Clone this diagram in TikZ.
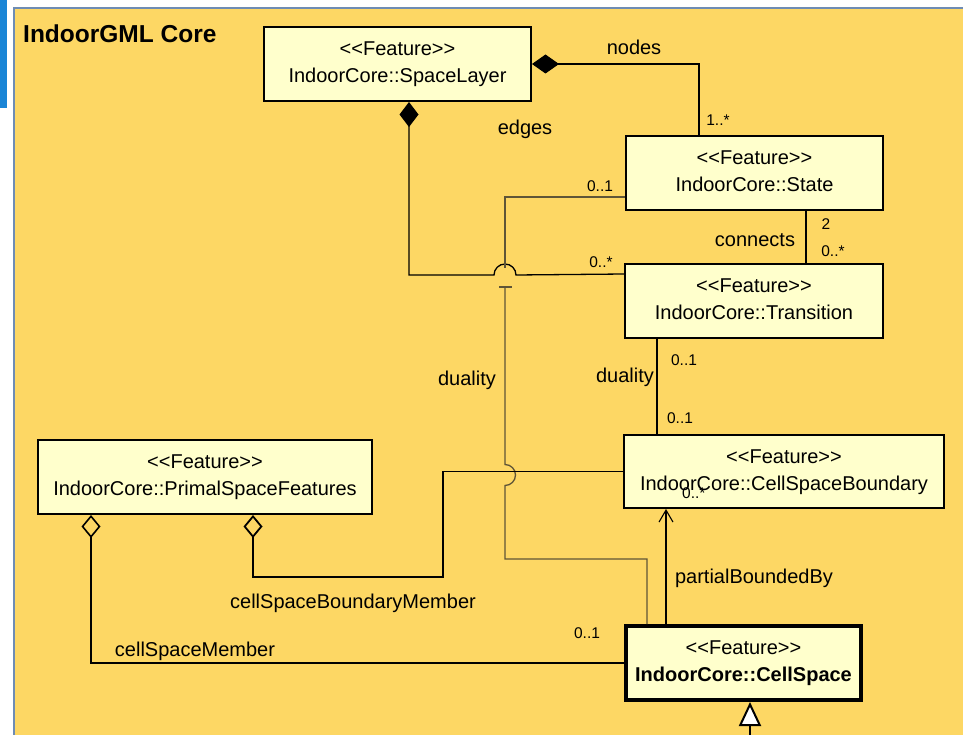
\documentclass[tikz,border=0pt]{standalone}
\usepackage{fontspec}
\setmainfont{Liberation Sans}
\usetikzlibrary{arrows.meta,calc}

\definecolor{pkgfill}{RGB}{253,215,100}
\definecolor{boxfill}{RGB}{255,255,204}
\definecolor{pkgedge}{RGB}{110,140,180}
\definecolor{barblue}{RGB}{26,133,214}
\definecolor{dualline}{RGB}{95,85,55}

% stereotype line of every class box
\newcommand\featuretag{<\kern0pt<Feature>\kern0pt>}

\begin{document}
\begin{tikzpicture}[x=1pt,y=-1pt,
  cls/.style={draw=black, line width=2pt, fill=boxfill, align=center,
              inner sep=0pt, font=\fontsize{20}{27}\selectfont},
  lbl/.style={anchor=base, inner sep=0pt, font=\fontsize{20}{24}\selectfont},
  mult/.style={anchor=base, inner sep=0pt, font=\fontsize{15.5}{18}\selectfont},
  conn/.style={line width=1.3pt},
  dual/.style={line width=1.3pt, draw=dualline},
  fdiamond/.style={{Diamond[length=#1,width=19pt,fill=black]}-},
  odiamond/.style={{Diamond[open,length=23pt,width=19pt,fill=pkgfill]}-},
]
\useasboundingbox (0,0) rectangle (963,735);
\fill[white] (0,0) rectangle (963,735);
\fill[barblue] (0,0) rectangle (7,108);
\draw[pkgedge, line width=1.5pt, fill=pkgfill] (14,8) rectangle (980,760);

\node[anchor=base west, inner sep=0pt,
      font=\fontsize{24.5}{28}\selectfont\bfseries] (title) at (23,43) {IndoorGML Core};

% class boxes
\node[cls, minimum width=267, minimum height=74] (sl)  at (397.5,64)
  {\strut\featuretag\\IndoorCore::SpaceLayer\strut};
\node[cls, minimum width=257, minimum height=74] (st)  at (754.5,173)
  {\strut\featuretag\\IndoorCore::State\strut};
\node[cls, minimum width=258, minimum height=74] (tr)  at (754,301)
  {\strut\featuretag\\IndoorCore::Transition\strut};
\node[cls, minimum width=320, minimum height=73] (csb) at (784,471.5)
  {\strut\featuretag\\IndoorCore::CellSpaceBoundary\strut};
\node[cls, minimum width=334, minimum height=74] (psf) at (205,477)
  {\strut\featuretag\\IndoorCore::PrimalSpaceFeatures\strut};
\node[cls, line width=4pt, minimum width=235, minimum height=74] (cs) at (743.5,663)
  {\strut\featuretag\\\textbf{IndoorCore::CellSpace}\strut};

% helper points on the connector routes
\coordinate (nodesX) at ($(st.north west)+(74,0)$);
\coordinate (hop1)   at (494,275);
\coordinate (eT)     at ($(tr.north west)+(0,11)$);
\coordinate (colD)   at (505,0);
\coordinate (dS)     at ($(st.south west)+(0,-14)$);
\coordinate (dE)     at ($(cs.north west)+(23,0)$);
\coordinate (dLow)   at (505,559);
\coordinate (cA)     at ($(st.south west)+(181,0)$);
\coordinate (dA)     at ($(tr.south west)+(33,0)$);
\coordinate (pB)     at ($(cs.north west)+(42,0)$);
\coordinate (cmS)    at ($(psf.south west)+(54,0)$);
\coordinate (bmS)    at ($(psf.south west)+(216,0)$);
\coordinate (bmK)    at (443,577);
\coordinate (gA)     at ($(cs.south)+(6.5,0)$);
\coordinate (gB)     at ($(gA)+(0,60)$);

% nodes
\draw[conn, line width=1.1pt, fdiamond=27pt] (sl.east) -| (nodesX);
% edges (hops over the duality line)
\draw[conn, fdiamond=25pt] ($(sl.south)+(11.5,0)$) |- (hop1)
  arc[start angle=180, end angle=0, radius=11pt] -- (eT);
% duality State -- CellSpace (hops over the boundary member line)
\draw[dual] (dS) -| ($(colD|-hop1)+(0,-7)$);
\draw[dual] ($(colD|-hop1)+(-6,12)$) -- ++(13,0);
\draw[dual] ($(colD|-hop1)+(0,13)$) -- ($(colD|-csb.west)+(0,-7)$)
  arc[start angle=90, end angle=-90, radius=10.5pt] -- (dLow) -| (dE);
% connects
\draw[conn, line width=1.1pt] (cA) -- (cA |- tr.north);
% duality Transition -- CellSpaceBoundary
\draw[conn, line width=1.6pt] (dA) -- (dA |- csb.north);
% partialBoundedBy
\draw[conn, line width=1.1pt, -{Straight Barb[length=12pt,width=14pt]}] (pB) -- (pB |- csb.south);
% cellSpaceMember
\draw[conn, line width=1.6pt, odiamond] (cmS) |- (cs.west);
% cellSpaceBoundaryMember
\draw[conn, line width=1.8pt, odiamond] (bmS) |- (bmK) |- (csb.west);
% generalization
\draw[line width=2pt, {Triangle[open,fill=white,length=24pt,width=22pt]}-] (gA) -- (gB);

% role names and multiplicities
\node[lbl]  (lNodes) at (634,55)  {nodes};
\node[mult] (mNodes) at (718,126) {1..*};
\node[lbl]  (lEdges) at (525,135) {edges};
\node[mult] (mState) at (600,192) {0..1};
\node[mult] (mTrans) at (601,267) {0..*};
\node[lbl]  (lConn)  at (755,247) {connects};
\node[mult] (mTwo)   at (826,230) {2};
\node[mult] (mConn)  at (833,257) {0..*};
\node[mult] (mDuA)   at (684,365) {0..1};
\node[lbl]  (lDuA)   at (625,382) {duality};
\node[mult] (mDuB)   at (680,423) {0..1};
\node[lbl]  (lDuB)   at (467,385) {duality};
\node[mult, anchor=base west] (mPart) at (682,498) {0..*};
\node[lbl]  (lPart)  at (754,583) {partialBoundedBy};
\node[mult] (mCell)  at (587,638) {0..1};
\node[lbl]  (lBMem)  at (353,608) {cellSpaceBoundaryMember};
\node[lbl]  (lCMem)  at (195,656) {cellSpaceMember};
\end{tikzpicture}
\end{document}
